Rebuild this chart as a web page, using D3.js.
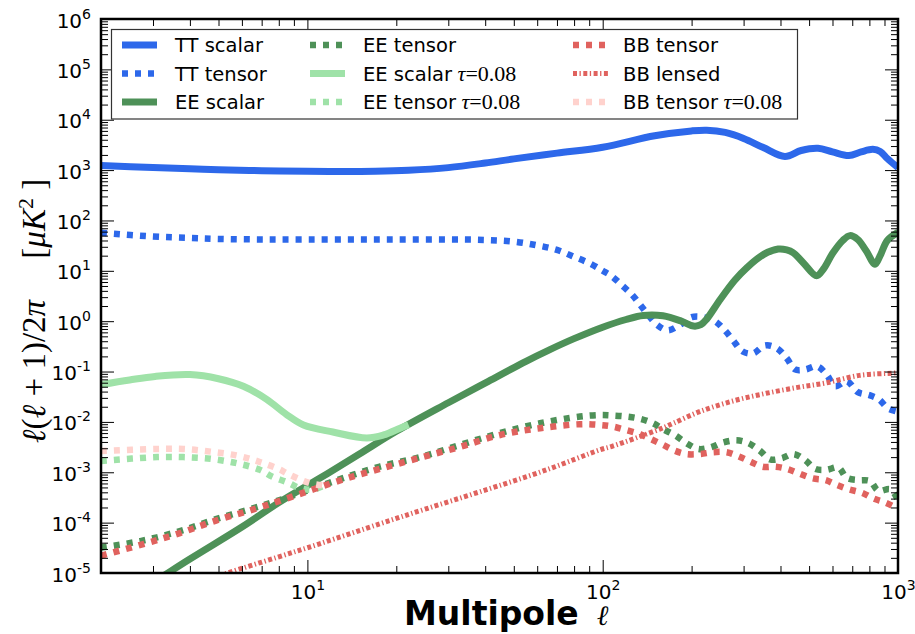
<!DOCTYPE html>
<html>
<head>
<meta charset="utf-8" />
<script src="https://d3js.org/d3.v7.min.js"></script>
<style>
  body { margin: 0; background: #fff; }
  svg { font-family: "DejaVu Sans", sans-serif; }
</style>
</head>
<body>
<div id="visu"></div>
<script>
// Dimensions
const largeur = 915;
const hauteur = 634;
const marge = {haut: 19, droite: 17, bas: 63, gauche: 101};

// Spectres : [multipole l, l(l+1)C_l/2pi en muK^2]
const ttScalar = [[2,1230],[3,1120],[4,1060],[5,1020],[7,975],[10,945],[13,935],[17,945],[22,990],[30,1120],[40,1380],[50,1670],[70,2170],[100,2850],[150,4800],[200,6000],[225,6200],[260,5600],[300,4250],[350,2800],[414,1870],[470,2450],[536,2700],[600,2300],[682,1950],[750,2300],[822,2580],[870,2350],[920,1700],[1000,1120]];
const ttTensor = [[2,57],[3,48],[4,45],[5,43],[7,42],[10,42],[15,42],[20,42],[30,42],[40,41],[50,38],[60,32],[70,26],[80,19],[91,13.8],[100,10],[107,7.9],[116,5.2],[126,3.3],[134,2.1],[143,1.3],[153,0.84],[166,0.66],[183,0.85],[200,1.2],[219,1.2],[240,1.0],[259,0.66],[276,0.42],[298,0.25],[323,0.23],[355,0.33],[389,0.29],[421,0.18],[448,0.11],[486,0.11],[532,0.127],[575,0.085],[612,0.051],[671,0.064],[731,0.039],[800,0.034],[862,0.028],[925,0.0186],[1000,0.016]];
const eeScalar = [[2,1.5e-6],[3,6.5e-6],[4,1.9e-5],[6,8.2e-5],[8,2.5e-4],[11,7.6e-4],[15,2.3e-3],[20,6.5e-3],[30,0.024],[41,0.064],[55,0.16],[66,0.27],[80,0.45],[100,0.76],[120,1.08],[137,1.3],[160,1.28],[185,1.0],[203,0.8],[215,0.85],[225,1.1],[250,2.7],[280,6.5],[308,11.6],[350,21],[393,27],[420,26],[441,23],[480,14],[530,8],[560,11],[600,22],[650,40],[687,50],[730,42],[780,25],[836,13.5],[870,20],[920,40],[1000,58]];
const eeTensor = [[2,3.2e-5],[2.72,4.3e-5],[3.7,6.8e-5],[4.9,1.17e-4],[6.7,2e-4],[8.2,2.9e-4],[10.5,4.8e-4],[13.5,8e-4],[17.6,1.3e-3],[24.1,2.0e-3],[32.9,3.5e-3],[44.9,6e-3],[61.4,9.4e-3],[83.8,0.0128],[98,0.0137],[106,0.0135],[120,0.0128],[134,0.0115],[148,0.0094],[160,0.0072],[176,0.0054],[192,0.0038],[211,0.0029],[231,0.0031],[256,0.0039],[284,0.0043],[311,0.0038],[340,0.0027],[369,0.0018],[404,0.0019],[442,0.0023],[484,0.00176],[524,0.00117],[573,0.00112],[628,0.00124],[670,0.00078],[734,0.0007],[804,0.00067],[858,0.00043],[942,0.00046],[1000,0.00028]];
const eeScalarTau = [[2,0.055],[2.5,0.068],[3.05,0.08],[4,0.087],[5,0.072],[6.07,0.051],[7.28,0.028],[8.5,0.014],[9.7,0.0087],[12.2,0.0063],[15.9,0.0048],[18.1,0.0055],[20.6,0.0075],[22,0.0088]];
const eeTensorTau = [[2,1.68e-3],[3.1,2.0e-3],[3.8,2.0e-3],[4.7,1.85e-3],[5.8,1.5e-3],[6.9,1.12e-3],[7.6,8.2e-4],[8.5,6.4e-4],[9.4,4.9e-4],[10.4,4.5e-4],[11.5,5.6e-4]];
const bbTensor = [[2,2.2e-5],[2.8,3.8e-5],[3.7,6.2e-5],[4.9,1.1e-4],[6.7,1.9e-4],[8.2,2.8e-4],[10.5,4.6e-4],[13.5,7.5e-4],[17.6,1.17e-3],[24.1,1.95e-3],[32.9,3.2e-3],[44.9,5.5e-3],[61.4,7.5e-3],[83.8,9e-3],[98,8.7e-3],[108,8.1e-3],[120,6.9e-3],[134,5.7e-3],[145,4.6e-3],[160,3.5e-3],[176,2.66e-3],[192,2.3e-3],[213,2.3e-3],[236,2.5e-3],[262,2.5e-3],[287,2.1e-3],[318,1.6e-3],[348,1.29e-3],[386,1.29e-3],[422,1.16e-3],[462,9.5e-4],[512,7.6e-4],[567,7e-4],[621,5.6e-4],[680,4.6e-4],[755,3.9e-4],[827,3e-4],[906,2.5e-4],[1000,1.9e-4]];
const bbLensed = [[4,5.5e-6],[5.37,1e-5],[8,2.1e-5],[11,3.8e-5],[17.6,9.5e-5],[25,1.85e-4],[38.4,4.1e-4],[64.6,1.12e-3],[98,2.8e-3],[108,3.3e-3],[156,7.2e-3],[174,9.5e-3],[213,0.016],[276,0.026],[358,0.037],[462,0.049],[567,0.059],[740,0.084],[960,0.093],[1000,0.095]];
const bbTensorTau = [[2,2.65e-3],[3.1,2.9e-3],[3.8,2.9e-3],[4.7,2.57e-3],[5.8,2.14e-3],[6.9,1.6e-3],[8.1,1.12e-3],[8.5,9.6e-4],[9.4,7.3e-4],[10.3,6e-4],[11.8,5.3e-4]];

const noms = ["TT scalar", "TT tensor", "EE scalar", "EE tensor", "EE scalar", "EE tensor", "BB tensor", "BB lensed", "BB tensor"];
const avecTau = [false, false, false, false, true, true, false, false, true];
const donnees = [ttScalar, ttTensor, eeScalar, eeTensor, eeScalarTau, eeTensorTau, bbTensor, bbLensed, bbTensorTau];

const xTicks = [10, 100, 1000];
const yTicks = [1e-5, 1e-4, 1e-3, 1e-2, 1e-1, 1e0, 1e1, 1e2, 1e3, 1e4, 1e5, 1e6];

// Styles des courbes
const couleurs = ["#2d68ea", "#2d68ea", "#4e9158", "#4e9158", "#9fe2a8", "#9fe2a8", "#e0625e", "#e0625e", "#ffd2cd"];
const pointilles = [null, "6,7", null, "6,7", null, "6,7", "6,7", "4,2.5,1.3,2.5", "6,7"];
const epaisseurs = [7, 6.5, 7, 6.5, 7, 6.5, 6.5, 5, 6.5];

const svg = d3.select('#visu').append('svg')
    .attr('width', largeur)
    .attr('height', hauteur);

const gauche = marge.gauche, droite = largeur - marge.droite;
const haut = marge.haut, bas = hauteur - marge.bas + 2;

const echelleX = d3.scaleLog().domain([2, 1000]).range([gauche, droite]);
const echelleY = d3.scaleLog().domain([1e-5, 1e6]).range([bas, haut]);

svg.append('clipPath').attr('id', 'zone')
    .append('rect')
    .attr('x', gauche).attr('y', haut)
    .attr('width', droite - gauche).attr('height', bas - haut);

// Courbes
const ligneGen = d3.line()
    .x(d => echelleX(d[0]))
    .y(d => echelleY(d[1]))
    .curve(d3.curveCatmullRom.alpha(0.5));

const courbes = svg.append('g').attr('clip-path', 'url(#zone)');
donnees.forEach((d, i) => {
    courbes.append('path')
        .datum(d)
        .attr('d', ligneGen)
        .attr('fill', 'none')
        .attr('stroke', couleurs[i])
        .attr('stroke-width', epaisseurs[i])
        .attr('stroke-dasharray', pointilles[i])
        .attr('stroke-linecap', 'butt')
        .attr('stroke-linejoin', 'round');
});

// Graduations mineures
function mineures(min, max) {
    const res = [];
    for (let p = Math.floor(Math.log10(min)); p <= Math.ceil(Math.log10(max)); p++) {
        for (let k = 2; k <= 9; k++) {
            const v = k * Math.pow(10, p);
            if (v >= min && v <= max) res.push(v);
        }
    }
    return res;
}

function exposant(sel) {
    sel.each(function(d) {
        const t = d3.select(this);
        const p = Math.round(Math.log10(d));
        t.text('');
        t.append('tspan').text('10');
        t.append('tspan').attr('dy', -9).attr('font-size', 14).text(p < 0 ? '-' + (-p) : p);
    });
}

const axeX = [
    {gen: d3.axisBottom, pos: bas, labels: true},
    {gen: d3.axisTop, pos: haut, labels: false}
];
axeX.forEach(a => {
    const gMaj = svg.append('g').attr('transform', `translate(0,${a.pos})`)
        .call(a.gen(echelleX).tickValues(xTicks).tickSize(-13).tickPadding(12)
            .tickFormat(a.labels ? d => d : ''));
    const gMin = svg.append('g').attr('transform', `translate(0,${a.pos})`)
        .call(a.gen(echelleX).tickValues(mineures(2, 1000)).tickSize(-7).tickFormat(''));
    [gMaj, gMin].forEach(g => {
        g.select('.domain').remove();
        g.selectAll('line').attr('stroke', '#000').attr('stroke-width', 1);
    });
    if (a.labels) {
        gMaj.selectAll('text').attr('font-size', 20).attr('font-family', 'DejaVu Sans')
            .attr('fill', '#000').call(exposant);
    }
});

const axeY = [
    {gen: d3.axisLeft, pos: gauche, labels: true},
    {gen: d3.axisRight, pos: droite, labels: false}
];
axeY.forEach(a => {
    const gMaj = svg.append('g').attr('transform', `translate(${a.pos},0)`)
        .call(a.gen(echelleY).tickValues(yTicks).tickSize(-13).tickPadding(10)
            .tickFormat(a.labels ? d => d : ''));
    const gMin = svg.append('g').attr('transform', `translate(${a.pos},0)`)
        .call(a.gen(echelleY).tickValues(mineures(1e-5, 1e6)).tickSize(-7).tickFormat(''));
    [gMaj, gMin].forEach(g => {
        g.select('.domain').remove();
        g.selectAll('line').attr('stroke', '#000').attr('stroke-width', 1);
    });
    if (a.labels) {
        gMaj.selectAll('text').attr('font-size', 20).attr('font-family', 'DejaVu Sans')
            .attr('fill', '#000').attr('dy', '0.4em').call(exposant);
    }
});

// Cadre
svg.append('rect')
    .attr('x', gauche).attr('y', haut)
    .attr('width', droite - gauche).attr('height', bas - haut)
    .attr('fill', 'none').attr('stroke', '#000').attr('stroke-width', 2.5);

// Légende
const legende = svg.append('g');
legende.append('rect')
    .attr('x', 111.5).attr('y', 29.5).attr('width', 686).attr('height', 89.5)
    .attr('fill', '#fff').attr('stroke', '#333').attr('stroke-width', 1.2);

const colX = [122, 310, 573];
const colTexte = [175, 363, 623];
const rangY = [45, 73.5, 102];
noms.forEach((nom, i) => {
    const c = Math.floor(i / 3), r = i % 3;
    legende.append('line')
        .attr('x1', colX[c]).attr('x2', colX[c] + 35)
        .attr('y1', rangY[r]).attr('y2', rangY[r])
        .attr('stroke', couleurs[i])
        .attr('stroke-width', epaisseurs[i])
        .attr('stroke-dasharray', pointilles[i]);
    const t = legende.append('text')
        .attr('x', colTexte[c]).attr('y', rangY[r]).attr('dy', '0.36em')
        .attr('font-size', 19.5).attr('fill', '#000')
        .text(nom);
    if (avecTau[i]) {
        t.append('tspan').attr('font-family', 'Liberation Serif').attr('font-style', 'italic')
            .attr('font-size', 22).text(' τ');
        t.append('tspan').attr('font-family', 'Liberation Serif')
            .attr('font-size', 22).text('=0.08');
    }
});

// Titres des axes
const titreX = svg.append('text')
    .attr('x', 404).attr('y', 625)
    .attr('font-size', 33).attr('font-weight', 'bold').attr('fill', '#000')
    .text('Multipole');
titreX.append('tspan').attr('dx', 18).attr('font-family', 'Liberation Serif').attr('font-style', 'italic')
    .attr('font-weight', 'normal').attr('font-size', 28).text('ℓ');

const titreY = svg.append('text')
    .attr('transform', 'translate(45,311) rotate(-90)')
    .attr('text-anchor', 'middle')
    .attr('font-family', 'Liberation Serif')
    .attr('font-size', 33).attr('fill', '#000');
titreY.append('tspan').attr('font-style', 'italic').text('ℓ');
titreY.append('tspan').text('(');
titreY.append('tspan').attr('font-style', 'italic').text('ℓ');
titreY.append('tspan').text(' + 1)/2');
titreY.append('tspan').attr('font-style', 'italic').text('π');
titreY.append('tspan').text('\u2003 [');
titreY.append('tspan').attr('font-style', 'italic').text('μK');
titreY.append('tspan').attr('dy', -12).attr('font-size', 22).text('2');
titreY.append('tspan').attr('dy', 12).text(' ]');
</script>
</body>
</html>
